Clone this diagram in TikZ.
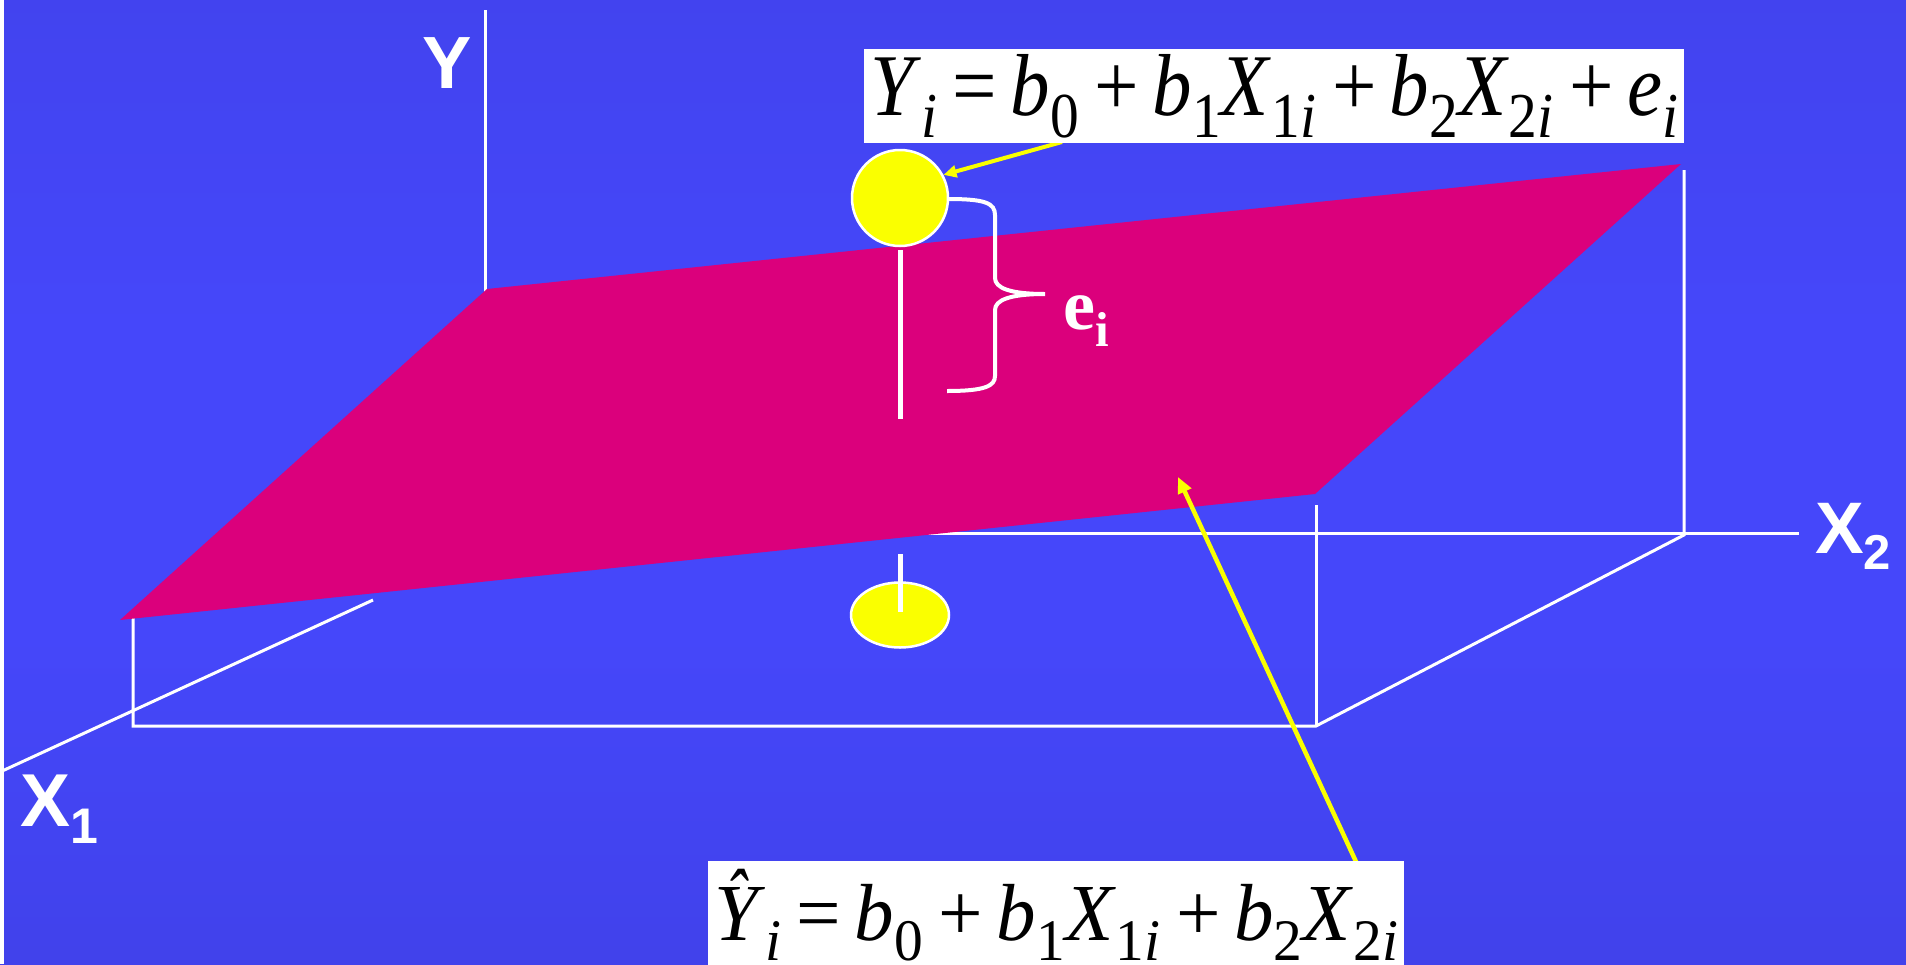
\documentclass[tikz,border=0pt]{standalone}
\usepackage{fontspec}
\usepackage{graphicx}
\setmainfont{Liberation Serif}
\newfontfamily\labfont{Liberation Sans}
\usetikzlibrary{arrows.meta,shapes.geometric}
\definecolor{bgtop}{RGB}{62,62,222}
\definecolor{bgmid}{RGB}{69,71,250}
\definecolor{bgbot}{RGB}{58,58,212}
\definecolor{planecol}{RGB}{219,0,124}
\definecolor{yel}{RGB}{250,255,0}
\pgfdeclareverticalshading{bgshade}{100bp}{color(0bp)=(bgbot); color(42bp)=(bgmid); color(58bp)=(bgmid); color(100bp)=(bgtop)}
\newsavebox\eqtopbox
\newsavebox\eqbotbox
\newlength\eqlen
\newcommand\eqsz{\fontsize{88}{92}\selectfont}
\newcommand\sbsz{\fontsize{64}{66}\selectfont}
\newcommand\vi[1]{\textit{#1}}
\newcommand\sbs[1]{\raisebox{-22pt}{\sbsz #1}}
\newcommand\eqop[1]{\hspace{0.2em}#1\hspace{0.17em}}
\newcommand\haty{\ooalign{\vi{Y}\cr\hidewidth\raisebox{15.5pt}{\scalebox{0.8}[1]{\vi{\symbol{"02C6}}}}\hspace{6pt}\hidewidth\cr}}
\newcommand\eqtopf{\eqsz\vi{Y}\sbs{\vi{i}}\eqop{=}\vi{b}\sbs{0}\eqop{+}\vi{b}\sbs{1}\vi{X}\sbs{1\vi{i}}\eqop{+}\vi{b}\sbs{2}\vi{X}\sbs{2\vi{i}}\eqop{+}\vi{e}\sbs{\vi{i}}}
\newcommand\eqbotf{\eqsz\haty\sbs{\vi{i}}\eqop{=}\vi{b}\sbs{0}\eqop{+}\vi{b}\sbs{1}\vi{X}\sbs{1\vi{i}}\eqop{+}\vi{b}\sbs{2}\vi{X}\sbs{2\vi{i}}}
\begin{document}
\sbox\eqtopbox{\eqtopf}%
\setlength\eqlen{\wd\eqtopbox}%
\pgfmathsetmacro\eqsx{808/\eqlen}%
\sbox\eqbotbox{\eqbotf}%
\setlength\eqlen{\wd\eqbotbox}%
\pgfmathsetmacro\eqsxb{684/\eqlen}%
\begin{tikzpicture}[x=1pt,y=-1pt,
  axisline/.style={draw=white, line width=3pt},
  stick/.style={draw=white, line width=5pt},
  dot/.style={fill=yel, draw=white, line width=2.5pt, inner sep=0pt},
  yarrow/.style={draw=yel, line width=4.5pt, -{Triangle[length=16pt,width=14pt]}},
  eqbox/.style={fill=white, inner xsep=6pt, inner ysep=5pt},
  axlab/.style={text=white, inner sep=0pt, font=\labfont\bfseries}]
\useasboundingbox (0,0) rectangle (1906,964);
\clip (0,0) rectangle (1906,964);
\shade[shading=bgshade] (0,0) rectangle (1906,964);
\fill[white] (0,0) rectangle (4,964);
% axes
\coordinate (O) at (485,533);
\coordinate (ytop) at (485,10);
\coordinate (x2end) at (1799,533);
\coordinate (x1a) at (373,600);
\coordinate (x1b) at (0,772);
\draw[axisline] (O) -- (ytop);
\draw[axisline] (O) -- (x2end);
\draw[axisline] (x1a) -- (x1b);
% box lines
\draw[axisline] (1684,170) -- (1684,535) -- (1316,726) -- (133,726) -- (133,618);
\draw[axisline] (1316,726) -- (1316,505);
% plane
\fill[planecol] (487,289) -- (1681,164) -- (1315,494) -- (120,620) -- cycle;
% residual stick and brace
\draw[stick] (900,250) -- (900,419);
\draw[draw=white, line width=4pt]
  (948,199) .. controls (985,199) and (995,203) .. (995,215) -- (995,278)
  .. controls (995,288) and (1010,294) .. (1045,294)
  .. controls (1010,294) and (995,300) .. (995,310) -- (995,376)
  .. controls (995,386) and (985,391) .. (947,391);
% points
\node[dot, circle, minimum size=96pt] (ptop) at (900,198) {};
\node[dot, ellipse, minimum width=98pt, minimum height=65pt] (pbot) at (900,615) {};
\draw[stick] (900,554) -- (900,612);
% e_i label
\node[text=white, inner sep=0pt, anchor=base west] (ei) at (1063,329)
  {\fontsize{72}{74}\selectfont\bfseries e\raisebox{-17pt}{\fontsize{49}{50}\selectfont\bfseries i}};
% formulas and arrows
\coordinate (a1) at (1062,142);
\draw[yarrow, -{Triangle[length=13pt,width=12pt]}, line width=4pt] (a1) -- (ptop.28);
\coordinate (a2s) at (1358,866);
\coordinate (a2e) at (1178,477);
\draw[yarrow] (a2s) -- (a2e);
\node[eqbox, anchor=base west] (eqtop) at (864,115) {\scalebox{\eqsx}[1]{\usebox\eqtopbox}};
\node[eqbox, anchor=base west] (eqbot) at (708,940) {\raisebox{0pt}[74pt][30pt]{\scalebox{\eqsxb}[0.92]{\usebox\eqbotbox}}};
% axis labels
\node[axlab, anchor=base, font=\labfont\bfseries\fontsize{74}{76}\selectfont] (ylab) at (447,88) {Y};
\node[axlab, anchor=base west, font=\labfont\bfseries\fontsize{75}{77}\selectfont] (x1lab) at (20,826) {X\raisebox{-17pt}{\fontsize{50}{52}\selectfont 1}};
\node[axlab, anchor=base west, font=\labfont\bfseries\fontsize{73}{75}\selectfont] (x2lab) at (1815,553) {X\raisebox{-16pt}{\fontsize{49}{51}\selectfont 2}};
\end{tikzpicture}
\end{document}
